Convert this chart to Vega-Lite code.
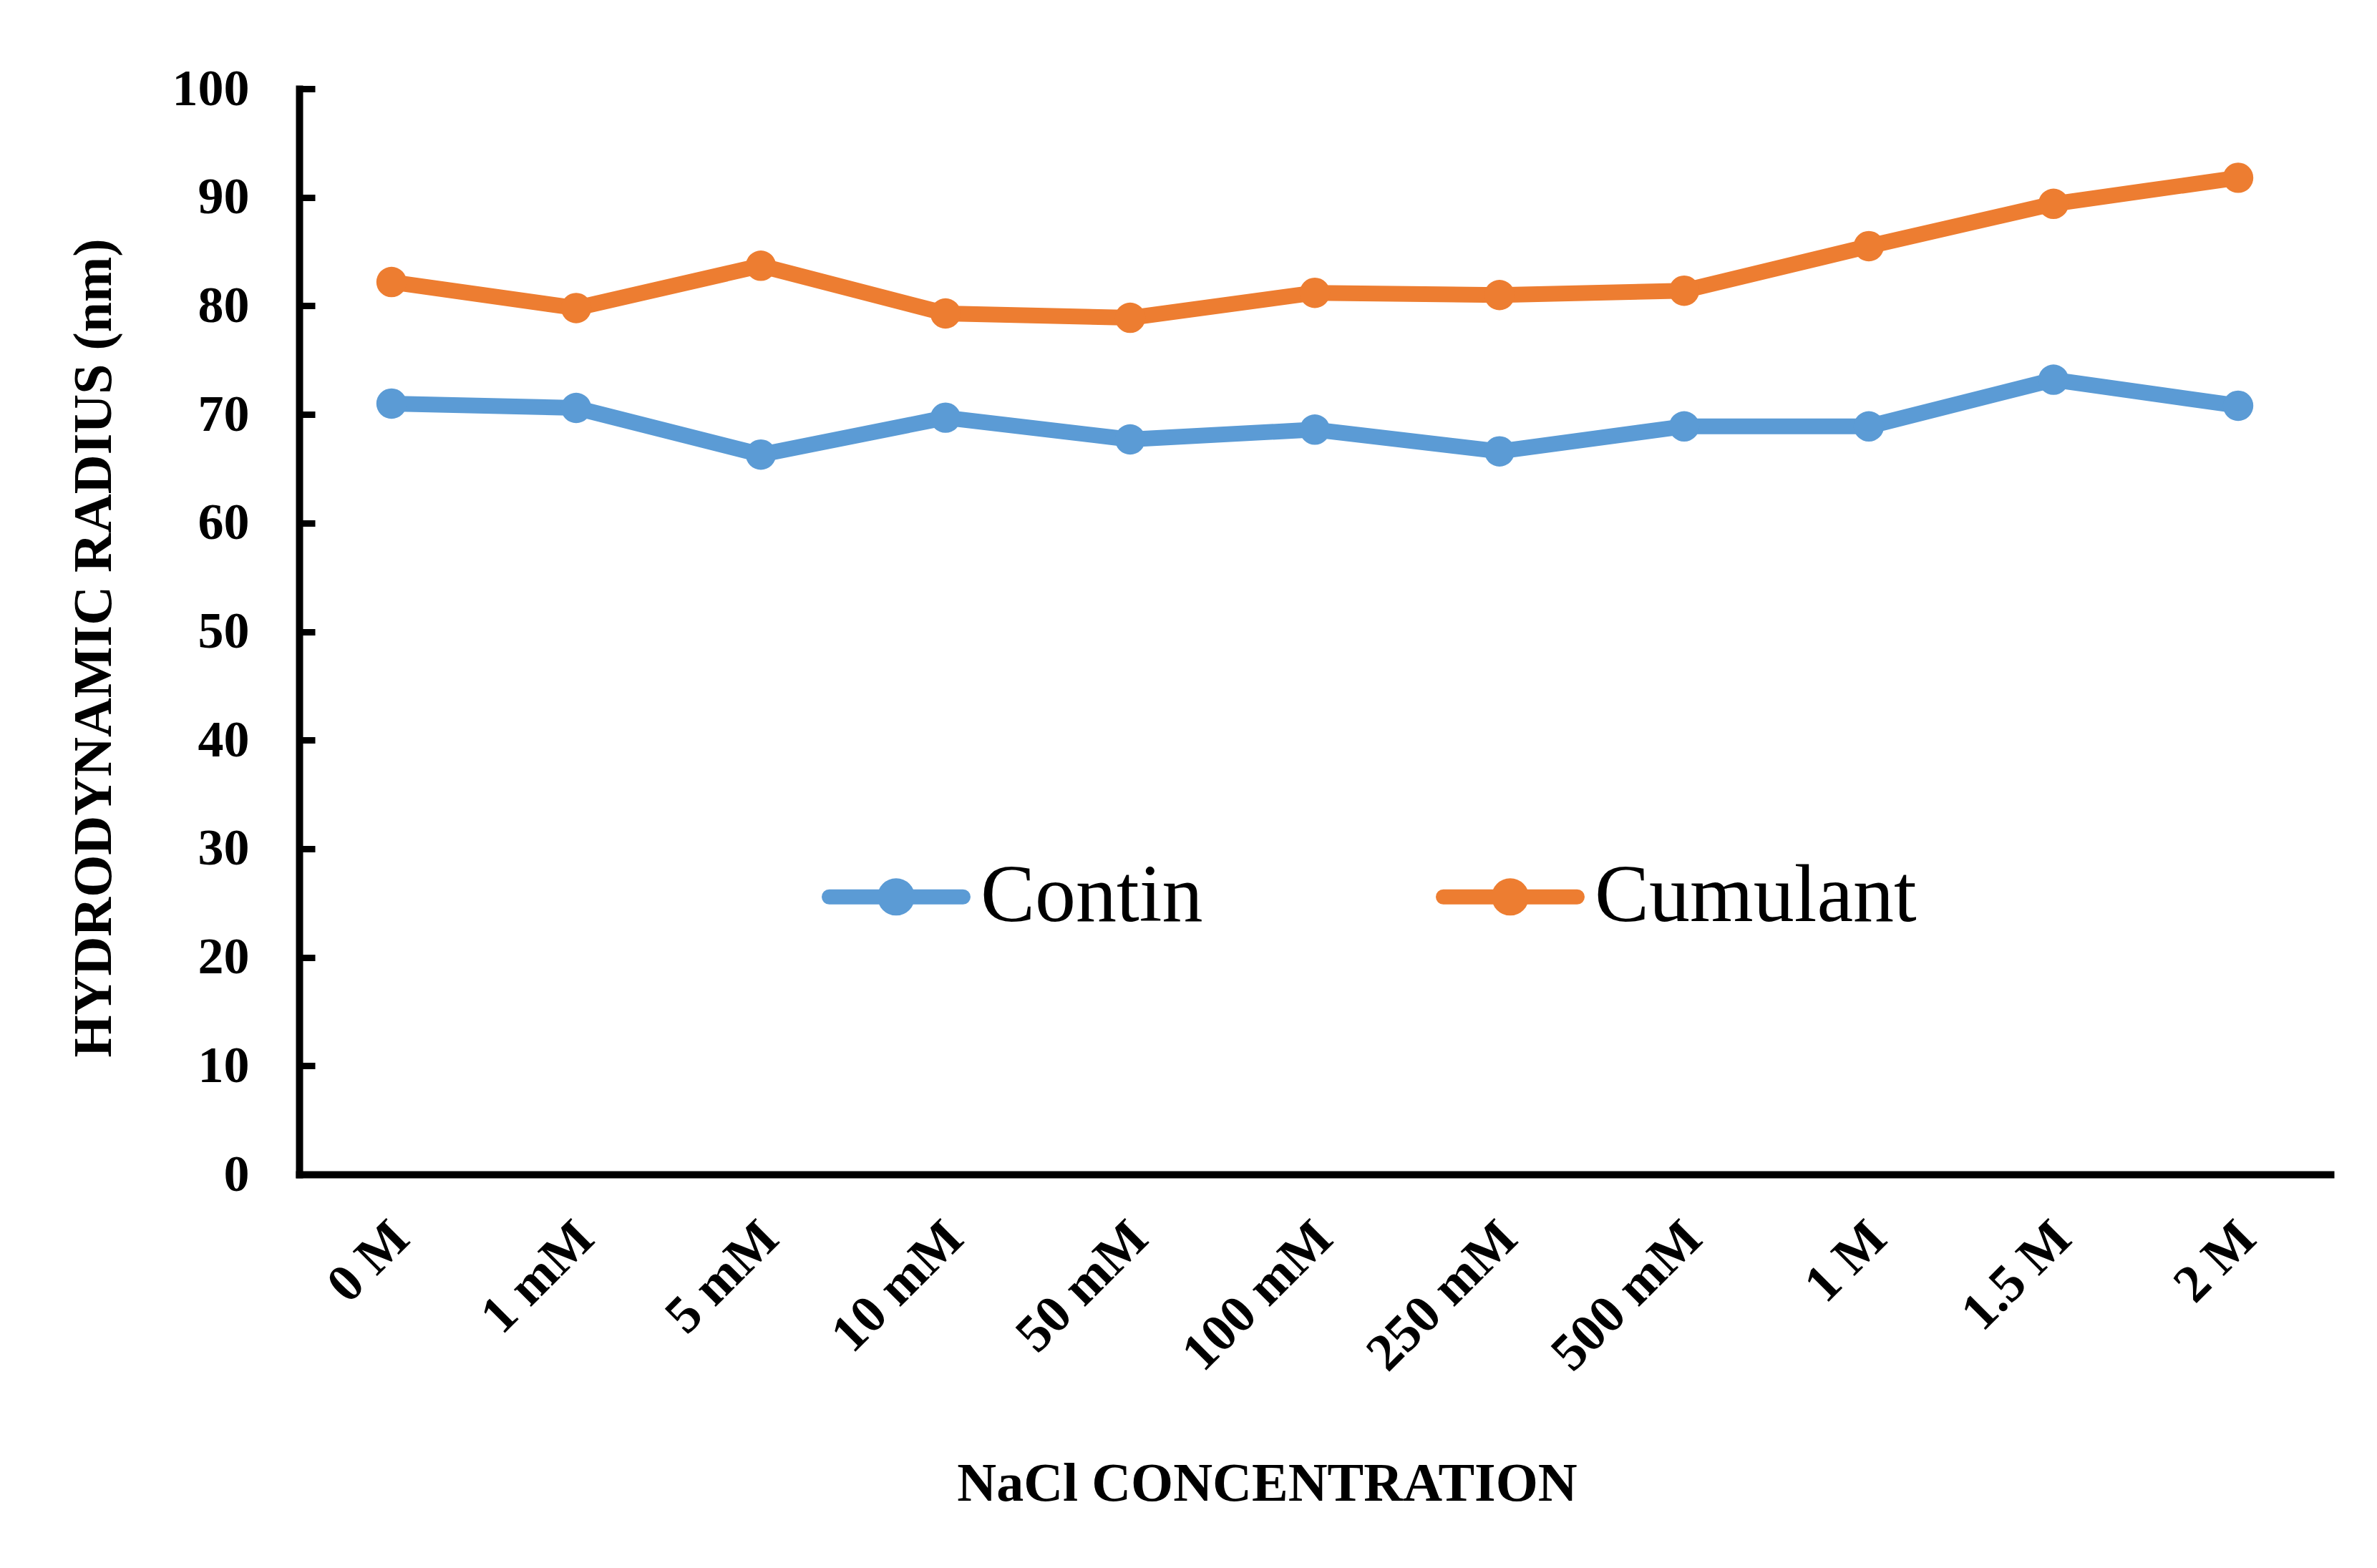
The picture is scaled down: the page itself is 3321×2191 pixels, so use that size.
{
  "$schema": "https://vega.github.io/schema/vega-lite/v6.json",
  "background": "white",
  "autosize": {"type": "none"},
  "width": 2838,
  "height": 1517,
  "padding": {"left": 418, "top": 124, "right": 65, "bottom": 550},
  "data": {
    "values": [
      {"conc": "0 M", "method": "Contin", "radius": 71.0},
      {"conc": "1 mM", "method": "Contin", "radius": 70.6},
      {"conc": "5 mM", "method": "Contin", "radius": 66.3},
      {"conc": "10 mM", "method": "Contin", "radius": 69.7},
      {"conc": "50 mM", "method": "Contin", "radius": 67.7},
      {"conc": "100 mM", "method": "Contin", "radius": 68.6},
      {"conc": "250 mM", "method": "Contin", "radius": 66.6},
      {"conc": "500 mM", "method": "Contin", "radius": 68.9},
      {"conc": "1 M", "method": "Contin", "radius": 68.9},
      {"conc": "1.5 M", "method": "Contin", "radius": 73.2},
      {"conc": "2 M", "method": "Contin", "radius": 70.8},
      {"conc": "0 M", "method": "Cumulant", "radius": 82.2},
      {"conc": "1 mM", "method": "Cumulant", "radius": 79.8},
      {"conc": "5 mM", "method": "Cumulant", "radius": 83.7},
      {"conc": "10 mM", "method": "Cumulant", "radius": 79.3},
      {"conc": "50 mM", "method": "Cumulant", "radius": 78.9},
      {"conc": "100 mM", "method": "Cumulant", "radius": 81.2},
      {"conc": "250 mM", "method": "Cumulant", "radius": 81.0},
      {"conc": "500 mM", "method": "Cumulant", "radius": 81.4},
      {"conc": "1 M", "method": "Cumulant", "radius": 85.5},
      {"conc": "1.5 M", "method": "Cumulant", "radius": 89.4},
      {"conc": "2 M", "method": "Cumulant", "radius": 91.8}
    ]
  },
  "mark": {
    "type": "line",
    "strokeWidth": 22,
    "strokeJoin": "round",
    "strokeCap": "round",
    "point": {"filled": true, "size": 1800, "opacity": 1}
  },
  "encoding": {
    "x": {
      "field": "conc",
      "type": "nominal",
      "sort": ["0 M", "1 mM", "5 mM", "10 mM", "50 mM", "100 mM", "250 mM", "500 mM", "1 M", "1.5 M", "2 M"],
      "scale": {"type": "point", "padding": 0.5},
      "axis": {
        "title": "NaCl CONCENTRATION",
        "ticks": false,
        "labelAngle": -45,
        "labelAlign": "right",
        "labelBaseline": "top",
        "labelPadding": 52,
        "labelOffset": -13,
        "labelFontSize": 74,
        "titleX": 1352,
        "titleY": 455,
        "titleAlign": "center",
        "titleBaseline": "alphabetic"
      }
    },
    "y": {
      "field": "radius",
      "type": "quantitative",
      "scale": {"domain": [0, 100], "nice": false, "zero": true},
      "axis": {
        "title": "HYDRODYNAMIC RADIUS (nm)",
        "values": [0, 10, 20, 30, 40, 50, 60, 70, 80, 90, 100],
        "ticks": true,
        "tickSize": -22,
        "tickWidth": 9,
        "tickColor": "black",
        "labelPadding": 92,
        "labelFontSize": 72,
        "titleX": -287,
        "titleY": 781,
        "titleAngle": -90,
        "titleAlign": "center",
        "titleBaseline": "middle"
      }
    },
    "color": {
      "field": "method",
      "type": "nominal",
      "scale": {"domain": ["Contin", "Cumulant"], "range": ["#5B9BD5", "#ED7D31"]},
      "legend": {
        "title": null,
        "orient": "none",
        "legendX": 730,
        "legendY": 1025,
        "direction": "horizontal",
        "padding": 0,
        "symbolType": "M-1,0L1,0M0.166,0A0.166,0.166,0,1,1,-0.166,0A0.166,0.166,0,1,1,0.166,0M0.053,0A0.053,0.053,0,1,1,-0.053,0A0.053,0.053,0,1,1,0.053,0",
        "symbolSize": 34969,
        "symbolStrokeWidth": 21,
        "labelFont": "Liberation Serif",
        "labelFontSize": 114,
        "labelFontWeight": "normal",
        "labelColor": "black",
        "labelOffset": 14,
        "columnPadding": 293,
        "labelLimit": 1000,
        "encode": {"symbols": {"update": {"strokeCap": {"value": "round"}}}}
      }
    }
  },
  "config": {
    "view": {"stroke": null},
    "axis": {
      "grid": false,
      "domainColor": "black",
      "domainWidth": 10,
      "domainCap": "square",
      "labelFont": "Liberation Serif",
      "labelFontWeight": "bold",
      "labelColor": "black",
      "titleFont": "Liberation Serif",
      "titleFontWeight": "bold",
      "titleFontSize": 76,
      "titleColor": "black",
      "labelLimit": 1000
    }
  }
}
